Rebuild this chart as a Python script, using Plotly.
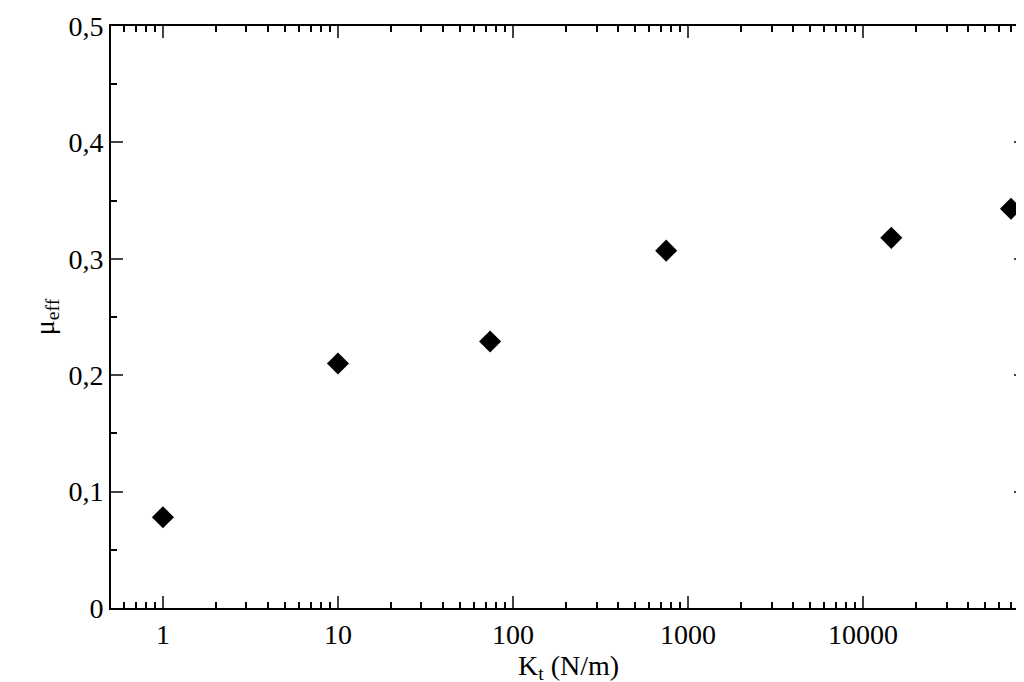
import plotly.graph_objects as go
import numpy as np

kt = [1, 10, 74, 750, 14500, 70000]
mu = [0.078, 0.210, 0.229, 0.307, 0.318, 0.343]
xtick_vals = [1, 10, 100, 1000, 10000]
xtick_text = ["1", "10", "100", "1000", "10000"]
ytick_vals = [0, 0.1, 0.2, 0.3, 0.4, 0.5]
ytick_text = ["0", "0,1", "0,2", "0,3", "0,4", "0,5"]

fig = go.Figure(go.Scatter(x=kt, y=mu, mode="markers", cliponaxis=False,
    marker=dict(symbol="diamond", size=17, color="black")))

font = dict(family="Liberation Serif", size=28, color="black")
fig.update_layout(
    width=1024, height=682, plot_bgcolor="white", paper_bgcolor="white",
    margin=dict(l=103, r=6, t=18, b=82, autoexpand=False), font=font, showlegend=False,
    xaxis=dict(type="log", range=[np.log10(0.505), np.log10(85300)], automargin=False,
        tickvals=xtick_vals, ticktext=xtick_text, tickfont=font, ticks="inside", ticklen=12,
        tickwidth=2, mirror="allticks", showline=True, linecolor="black", linewidth=2,
        showgrid=False, zeroline=False,
        minor=dict(ticks="inside", ticklen=6, tickwidth=1.5, tickcolor="black",
                   dtick="D1", showgrid=False),
        title=dict(text="K<sub>t</sub> (N/m)", font=font, standoff=0)),
    yaxis=dict(range=[0, 0.5], tickvals=ytick_vals, ticktext=ytick_text, automargin=False,
        tickfont=font, ticks="inside", ticklen=12, tickwidth=2, mirror="allticks", showline=True,
        linecolor="black", linewidth=2, showgrid=False, zeroline=False,
        minor=dict(ticks="inside", ticklen=6, tickwidth=1.5, tickcolor="black",
                   dtick=0.05, showgrid=False),
        title=dict(text="μ<sub>eff</sub>", font=font, standoff=6)),
)
fig.write_html("out.html")
